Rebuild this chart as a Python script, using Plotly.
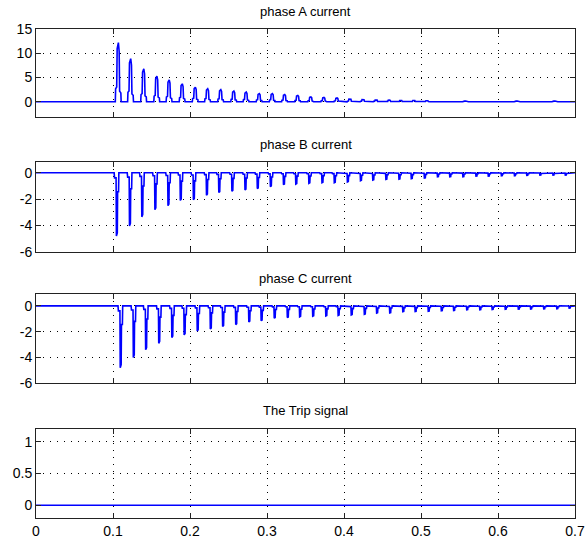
import plotly.graph_objects as go

# ---------------- data ----------------
# Phase A: positive current pulses (time of peak [s], peak value)
a_times = [0.107, 0.123, 0.140, 0.157, 0.173, 0.190, 0.207, 0.223, 0.240, 0.257,
           0.273, 0.290, 0.307, 0.323, 0.340, 0.357, 0.374, 0.391, 0.408, 0.425,
           0.442, 0.459, 0.474, 0.491, 0.508, 0.558, 0.625, 0.674]
a_peaks = [12.2, 8.9, 6.8, 5.3, 4.5, 3.7, 3.0, 2.7, 2.5, 2.2,
           2.0, 1.7, 1.7, 1.5, 1.3, 1.0, 0.9, 0.8, 0.6, 0.5,
           0.4, 0.35, 0.3, 0.3, 0.25, 0.15, 0.15, 0.15]

# Phase B: negative current pulses
b_times = [0.105, 0.122, 0.138, 0.155, 0.172, 0.188, 0.205, 0.222, 0.238, 0.255,
           0.272, 0.288, 0.305, 0.322, 0.338, 0.355, 0.372, 0.388, 0.405, 0.422,
           0.438, 0.455, 0.472, 0.488, 0.505, 0.522, 0.538, 0.555, 0.572, 0.588,
           0.605, 0.622, 0.638, 0.655, 0.672, 0.688]
b_peaks = [-4.8, -4.05, -3.35, -2.8, -2.5, -2.1, -2.05, -1.7, -1.5, -1.4,
           -1.3, -1.2, -1.05, -0.9, -0.85, -0.8, -0.75, -0.75, -0.7, -0.6,
           -0.55, -0.5, -0.48, -0.45, -0.4, -0.3, -0.3, -0.3, -0.25, -0.25,
           -0.22, -0.22, -0.2, -0.18, -0.18, -0.18]

# Phase C: negative current pulses
c_times = [0.110, 0.127, 0.143, 0.160, 0.177, 0.193, 0.210, 0.227, 0.243, 0.260,
           0.277, 0.293, 0.310, 0.327, 0.343, 0.360, 0.377, 0.393, 0.410, 0.427,
           0.443, 0.460, 0.477, 0.493, 0.510, 0.527, 0.543, 0.560, 0.577, 0.593,
           0.610, 0.627, 0.643, 0.660, 0.677, 0.693]
c_peaks = [-4.8, -4.0, -3.4, -2.9, -2.45, -2.25, -1.95, -1.8, -1.6, -1.45,
           -1.25, -1.15, -0.95, -0.9, -0.85, -0.8, -0.78, -0.75, -0.7, -0.65,
           -0.56, -0.55, -0.45, -0.44, -0.42, -0.38, -0.36, -0.3, -0.3, -0.28,
           -0.26, -0.25, -0.24, -0.23, -0.22, -0.18]

# Trip signal (stays at 0)
trip_times = [0.0, 0.7]
trip_values = [0, 0]

titles = ["phase A current", "phase B current", "phase C current", "The Trip signal"]
x_ticks = [0, 0.1, 0.2, 0.3, 0.4, 0.5, 0.6, 0.7]
x_ticktext = ["0", "0.1", "0.2", "0.3", "0.4", "0.5", "0.6", "0.7"]
y_ticks = [[0, 5, 10, 15], [-6, -4, -2, 0], [-6, -4, -2, 0], [0, 0.5, 1]]
y_ticktext = [["0", "5", "10", "15"], ["-6", "-4", "-2", "0"],
              ["-6", "-4", "-2", "0"], ["0", "0.5", "1"]]
y_ranges = [[-3.2, 15], [-6, 0.8], [-6, 0.9], [-0.2, 1.2]]

# ---------------- pulse shapes (style) ----------------
shape_a = [(-0.0040, 0.0), (-0.0036, 0.22), (-0.0022, 0.25), (-0.0016, 0.9),
           (0.0, 1.0), (0.0010, 0.85), (0.0016, 0.18), (0.0032, 0.15),
           (0.0036, 0.0)]
shape_bc = [(-0.0035, 0.0), (-0.0030, 0.08), (-0.0010, 0.08), (-0.0006, 1.0),
            (0.0006, 0.95), (0.0010, 0.3), (0.0022, 0.3), (0.0026, 0.0)]


def build(times, peaks, shape):
    xs, ys = [0.0], [0.0]
    for t, p in zip(times, peaks):
        for dt, r in shape:
            xs.append(t + dt)
            ys.append(p * r)
    xs.append(0.7)
    ys.append(0.0)
    return xs, ys


series = [build(a_times, a_peaks, shape_a),
          build(b_times, b_peaks, shape_bc),
          build(c_times, c_peaks, shape_bc),
          (trip_times, trip_values)]

# ---------------- figure ----------------
domains = [[0.8194, 1.0], [0.5446, 0.7274], [0.2755, 0.4575], [0.0, 0.1820]]
title_y = [1.035, 0.763, 0.489, 0.219]

FONT = "Arial, Liberation Sans, sans-serif"
fig = go.Figure()
layout = dict(
    width=586, height=542,
    margin=dict(l=36, r=11, t=29, b=24),
    paper_bgcolor="white", plot_bgcolor="white",
    showlegend=False,
    font=dict(family=FONT, size=13, color="black"),
    annotations=[],
)

for i in range(4):
    n = "" if i == 0 else str(i + 1)
    xs, ys = series[i]
    fig.add_trace(go.Scatter(x=xs, y=ys, mode="lines",
                             line=dict(color="#0000FF", width=1.6),
                             xaxis="x" + n, yaxis="y" + n,
                             hoverinfo="skip"))
    common = dict(
        ticks="inside", ticklen=5, tickcolor="#222", tickwidth=1,
        showline=True, linecolor="#222", linewidth=1, mirror="ticks",
        showgrid=True, gridcolor="#000", griddash="1px,6px", gridwidth=1,
        zeroline=False, automargin=False,
        tickfont=dict(family=FONT, size=14, color="black"),
    )
    layout["xaxis" + n] = dict(
        domain=[0, 1], anchor="y" + n, range=[0, 0.7],
        tickvals=x_ticks, ticktext=x_ticktext,
        showticklabels=(i == 3), **common)
    layout["yaxis" + n] = dict(
        domain=domains[i], anchor="x" + n, range=y_ranges[i],
        tickvals=y_ticks[i], ticktext=y_ticktext[i], **common)
    layout["annotations"].append(dict(
        text=titles[i], xref="paper", yref="paper", x=0.5, y=title_y[i],
        xanchor="center", yanchor="middle", showarrow=False,
        font=dict(family=FONT, size=13, color="black")))

fig.update_layout(**layout)
fig.write_html("out.html")
